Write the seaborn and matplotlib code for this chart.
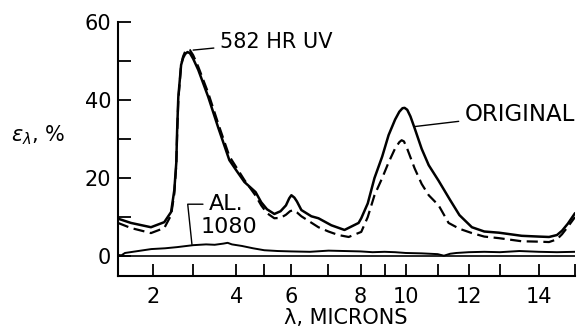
import matplotlib.pyplot as plt
import numpy as np
import pandas as pd
import seaborn as sns

# The wavelength strip of this spectrometer chart is not linear:
# where each whole micron sits along the strip (in strip units)
scale_microns = [1, 2, 3, 4, 5, 6, 7, 8, 9, 10, 11, 12, 13, 14, 15]
scale_pos = [0, 35, 75, 118, 146, 173, 210, 242, 266, 287, 319, 350, 381, 420, 456]

# ORIGINAL (solid)
orig_wl = [1.0, 1.37, 1.94, 2.28, 2.45, 2.53, 2.58, 2.6, 2.63, 2.7, 2.75, 2.8, 2.86, 2.92,
           3.0, 3.12, 3.35, 3.58, 3.84, 4.0, 4.29, 4.69, 4.89, 5.1, 5.37, 5.6, 5.8, 5.92,
           6.0, 6.08, 6.15, 6.27, 6.54, 6.73, 7.09, 7.5, 7.94, 8.03, 8.3, 8.58, 8.9, 9.19,
           9.5, 9.7, 9.85, 9.95, 10.05, 10.15, 10.28, 10.5, 10.72, 11.03, 11.39, 11.7, 12.1,
           12.5, 12.97, 13.56, 14.0, 14.28, 14.5, 14.64, 14.8, 15.0]
orig_eps = [9.6, 8.5, 7.4, 8.7, 11.3, 16.9, 24.0, 32.0, 40.8, 49.0, 50.8, 51.8, 52.3, 52.0,
            50.6, 47.7, 40.8, 33.0, 24.6, 22.0, 19.0, 16.4, 13.8, 12.0, 10.8, 11.5, 13.0, 14.8,
            15.6, 15.0, 14.0, 11.8, 10.2, 9.7, 7.9, 6.7, 8.5, 9.7, 13.5, 20.0, 25.5, 31.0,
            35.0, 37.0, 37.9, 38.0, 37.5, 35.8, 32.8, 27.5, 23.3, 19.3, 14.5, 10.5, 7.4,
            6.3, 6.0, 5.2, 5.0, 4.9, 5.4, 6.5, 8.3, 11.0]

# 582 HR UV (dashed)
uv_wl = [1.0, 1.37, 1.94, 2.28, 2.45, 2.53, 2.58, 2.6, 2.63, 2.7, 2.75, 2.8, 2.86, 2.92,
         3.0, 3.12, 3.35, 3.58, 3.84, 4.0, 4.29, 4.69, 4.89, 5.1, 5.37, 5.6, 5.8, 5.95,
         6.05, 6.15, 6.27, 6.5, 6.73, 7.0, 7.31, 7.63, 8.03, 8.3, 8.58, 8.9, 9.19, 9.5,
         9.7, 9.81, 9.92, 10.05, 10.28, 10.5, 10.72, 11.03, 11.35, 11.7, 12.1, 12.5, 12.97,
         13.56, 14.0, 14.28, 14.5, 14.64, 14.8, 15.0]
uv_eps = [8.5, 7.2, 5.9, 7.2, 10.5, 16.0, 23.5, 31.0, 40.0, 49.0, 51.2, 52.4, 53.0, 52.8,
          51.5, 48.5, 41.8, 34.0, 25.6, 22.8, 19.5, 15.5, 13.0, 11.0, 9.7, 9.8, 10.6, 11.5,
          11.8, 11.2, 10.2, 8.8, 7.4, 6.3, 5.4, 4.9, 6.2, 10.0, 15.6, 20.0, 24.0, 27.6,
          29.2, 29.7, 29.4, 27.5, 22.5, 18.5, 15.6, 13.0, 8.5, 7.0, 5.9, 5.0, 4.6,
          3.8, 3.7, 3.6, 4.3, 5.6, 7.5, 10.0]

# AL. 1080 (solid, near zero)
al_wl = [1.0, 1.1, 1.2, 1.5, 1.95, 2.3, 2.6, 3.0, 3.3, 3.5, 3.7, 3.8, 3.9, 4.2, 4.6, 5.0,
         5.5, 6.0, 6.5, 7.0, 7.5, 8.0, 8.5, 9.0, 9.5, 10.0, 10.5, 11.0, 11.2, 11.4, 11.6,
         12.0, 12.5, 13.0, 13.5, 14.0, 14.5, 15.0]
al_eps = [0.3, 0.2, 0.8, 1.2, 1.8, 2.0, 2.3, 2.8, 3.0, 2.9, 3.2, 3.4, 3.0, 2.6, 2.0, 1.5,
          1.3, 1.2, 1.1, 1.4, 1.3, 1.2, 1.0, 1.1, 1.0, 0.8, 0.7, 0.5, 0.1, 0.6, 0.8,
          1.0, 1.1, 1.0, 1.3, 1.1, 1.0, 1.1]

x_major = [2, 4, 6, 8, 10, 12, 14]
x_minor = [3, 5, 7, 9, 11, 13, 15]
y_major = [0, 20, 40, 60]
y_minor = [10, 30, 50]


def forward(x):
    return np.interp(x, scale_microns, scale_pos)


def inverse(p):
    return np.interp(p, scale_pos, scale_microns)


sns.set_theme(style='ticks')
plt.rcParams['font.family'] = ['DejaVu Sans']
plt.rcParams['axes.linewidth'] = 1.5
plt.rcParams['text.color'] = 'black'
plt.rcParams['axes.labelcolor'] = 'black'
plt.rcParams['axes.edgecolor'] = 'black'
plt.rcParams['xtick.color'] = 'black'
plt.rcParams['ytick.color'] = 'black'

fig, ax = plt.subplots(figsize=(5.82, 3.32), dpi=100)
fig.subplots_adjust(left=0.2027, right=0.988, bottom=0.1687, top=0.9337)
ax.set_xscale('function', functions=(forward, inverse))

orig = pd.DataFrame({'wl': orig_wl, 'eps': orig_eps})
uv = pd.DataFrame({'wl': uv_wl, 'eps': uv_eps})
al = pd.DataFrame({'wl': al_wl, 'eps': al_eps})

sns.lineplot(data=orig, x='wl', y='eps', ax=ax, color='black', lw=1.8,
             estimator=None, sort=False)
sns.lineplot(data=uv, x='wl', y='eps', ax=ax, color='black', lw=1.6,
             estimator=None, sort=False, dashes=False, linestyle=(0, (5, 2.5)))
sns.lineplot(data=al, x='wl', y='eps', ax=ax, color='black', lw=1.4,
             estimator=None, sort=False)
ax.axhline(0, color='black', lw=1.2)

ax.set_xlim(1, 15)
ax.set_ylim(-5.1, 60)
ax.set_xticks(x_major)
ax.set_xticklabels([str(v) for v in x_major])
ax.set_xticks(x_minor, minor=True)
ax.set_yticks(y_major)
ax.set_yticks(y_minor, minor=True)
ax.tick_params(which='both', direction='in', length=9, width=1.3, color='black',
               labelcolor='black', labelsize=15)
ax.tick_params(axis='x', pad=8)
ax.tick_params(axis='y', pad=5)
sns.despine(ax=ax)

ax.set_ylabel(r'$\epsilon_\lambda$, %', rotation=0, fontsize=15, ha='center', va='center')
ax.yaxis.set_label_coords(-0.175, 0.555)
ax.set_xlabel('λ, MICRONS', fontsize=15)
ax.xaxis.set_label_coords(0.499, -0.126)

leader = dict(arrowstyle='-', color='black', lw=1.0, shrinkA=2, shrinkB=0)
ax.annotate('582 HR UV', xy=(3.0, 52.8), xytext=(3.62, 54.9), ha='left', va='center',
            fontsize=15, arrowprops=leader, annotation_clip=False)
ax.annotate('ORIGINAL', xy=(10.28, 33.2), xytext=(11.87, 36.4), ha='left', va='center',
            fontsize=16.5, arrowprops=leader, annotation_clip=False)
ax.annotate('AL.', xy=(2.97, 3.0), xytext=(3.77, 13.3), ha='center', va='center',
            fontsize=16, annotation_clip=False,
            arrowprops=dict(leader, connectionstyle='angle,angleA=180,angleB=96,rad=0'))
ax.text(3.83, 7.4, '1080', ha='center', va='center', fontsize=16)

fig.savefig('out.png', dpi=100)
